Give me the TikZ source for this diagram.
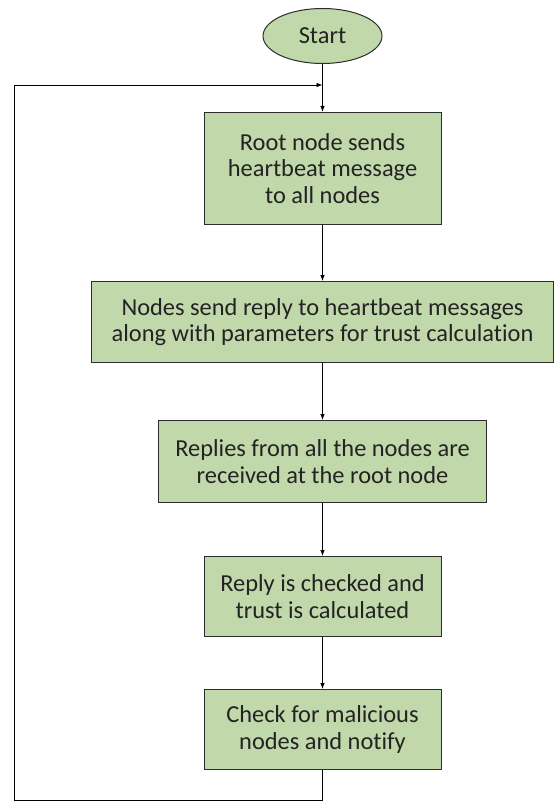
\documentclass[tikz,border=0pt]{standalone}
\usepackage{fontspec}
\setmainfont{Carlito}[Ligatures=NoCommon]
\usepackage{xcolor}
\usepackage{tikz}
\usetikzlibrary{
	positioning,    % Per posizionare i nodi (es. below=of)
	arrows.meta,    % Per stili di freccia moderni
	shapes.geometric % Per l'ellisse di inizio
}

\definecolor{verdino}{RGB}{192,216,170}
\definecolor{bordo}{RGB}{45,45,45}
\definecolor{testo}{RGB}{35,35,35}

\begin{document}
\begin{tikzpicture}[>={Latex[length=6pt,width=4.5pt]}, x=1pt, y=1pt,
		font=\fontsize{24.4}{26.5}\selectfont, text=testo,
		inizio/.style={ellipse, draw=bordo, line width=1pt, fill=verdino,
			minimum width=119pt, minimum height=55pt, inner sep=0pt},
		passo/.style={rectangle, draw=bordo, line width=1pt, fill=verdino,
			align=center, inner sep=0pt},
		freccia/.style={->, line width=0.8pt, black}]
		% Area del disegno (margini compresi)
		\useasboundingbox (0,0) rectangle (555,-802);
		
		% --- Nodi ---
		\node[inizio] (start) at (322.5,-36) {Start};
		\node[passo, minimum width=237pt, minimum height=112pt, below=48pt of start] (root)
			{Root node sends\\heartbeat message\\to all nodes};
		\node[passo, minimum width=462pt, minimum height=81pt, below=56pt of root] (reply)
			{Nodes send reply to heartbeat messages\\along with parameters for trust calculation};
		\node[passo, minimum width=328pt, minimum height=82pt, below=57pt of reply] (received)
			{Replies from all the nodes are\\received at the root node};
		\node[passo, minimum width=237pt, minimum height=80pt, below=53pt of received] (trust)
			{Reply is checked and\\trust is calculated};
		\node[passo, minimum width=237pt, minimum height=80pt, below=52pt of trust] (check)
			{Check for malicious\\nodes and notify};
		
		% --- Frecce ---
		% Punto in cui il ritorno si unisce al flusso principale
		\coordinate (merge) at ([yshift=-21pt]start.south);
		\coordinate (loopcorner) at (14,-800);
		\draw[freccia] (start) -- (root);
		\draw[freccia] (root) -- (reply);
		\draw[freccia] (reply) -- (received);
		\draw[freccia] (received) -- (trust);
		\draw[freccia] (trust) -- (check);
		% Ritorno dal controllo all'inizio del ciclo
		\draw[freccia] (check.south) |- (loopcorner) |- (merge);
	\end{tikzpicture}
\end{document}
